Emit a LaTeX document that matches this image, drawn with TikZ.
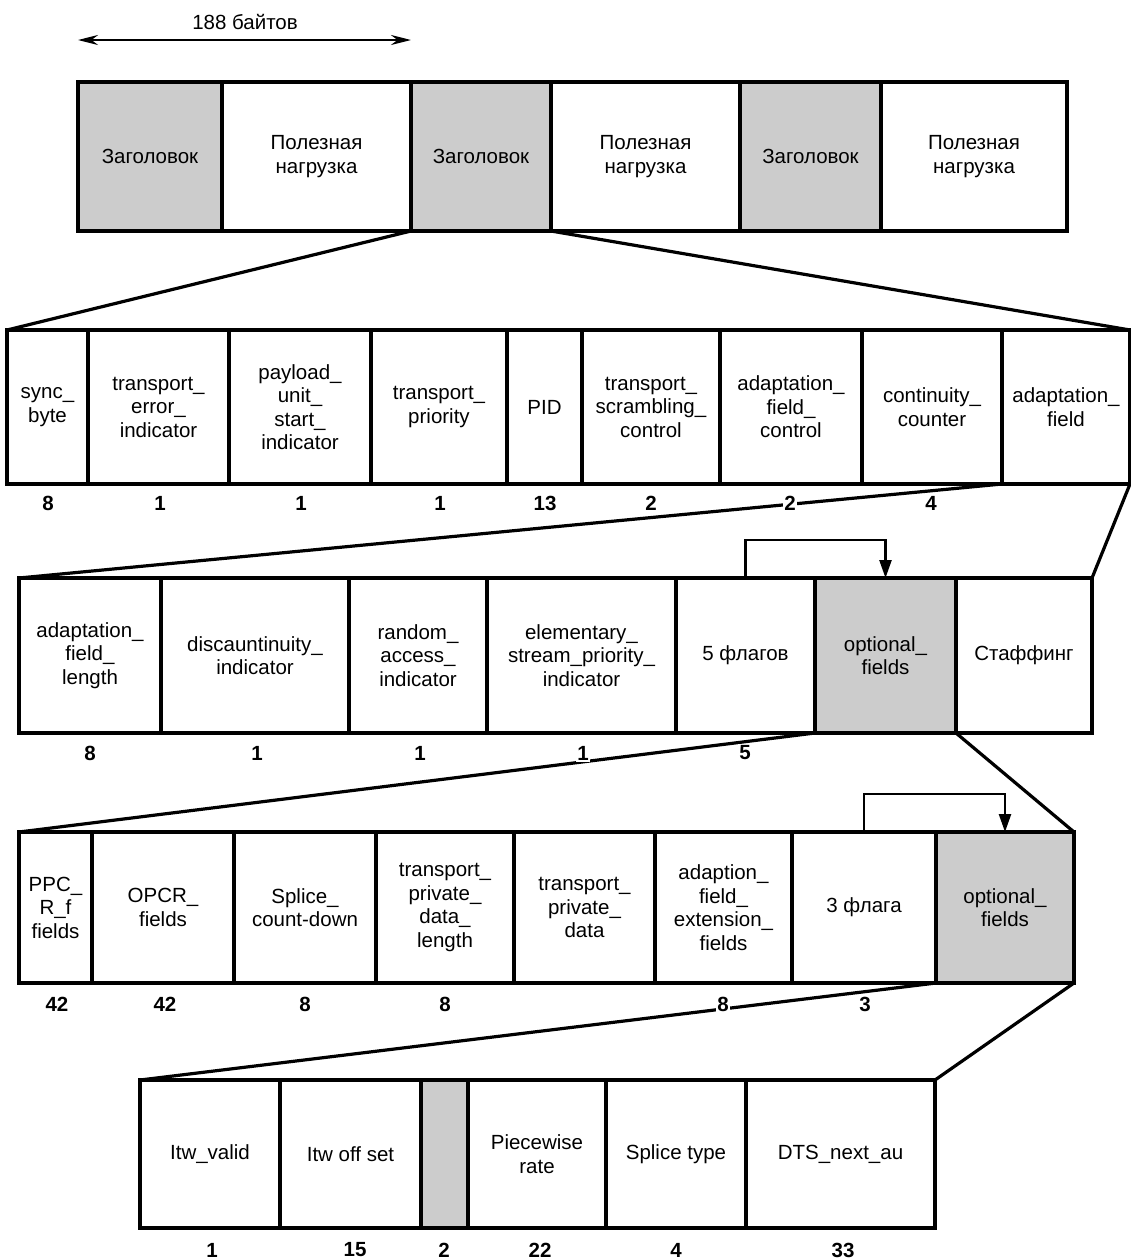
\documentclass[tikz,border=0pt]{standalone}
\usepackage{fontspec}
\setmainfont{Liberation Sans}
\usetikzlibrary{arrows.meta}
\definecolor{cellgray}{RGB}{204,204,204}
\newcommand{\cellfont}{\fontsize{20.5}{23.5}\selectfont}
\tikzset{
  cell/.style={draw, line width=3.2pt, anchor=north west, inner sep=0pt, outer sep=0pt, align=center, font=\cellfont, fill=white},
  shaded/.style={cell, fill=cellgray},
  num/.style={fill=white, inner sep=1.5pt, font=\cellfont\bfseries},
  link/.style={line width=3.2pt, line cap=round},
  flagarrow/.style={line width=2.4pt, -{Triangle[length=18pt,width=12pt]}},
  sizearrow/.style={line width=2.2pt, {Stealth[length=20pt,width=10pt]}-{Stealth[length=20pt,width=10pt]}}
}
\begin{document}
\begin{tikzpicture}[x=1pt, y=-1pt]
\useasboundingbox (0,0) rectangle (1131,1259);
% size arrow
\coordinate (sa) at (78,40);
\coordinate (sb) at (411,40);
\draw[sizearrow] (sa) -- (sb);
\node[font=\cellfont] (sizelabel) at (245,22) {188 байтов};

% Row 1
\node[shaded, minimum width=144pt, minimum height=149pt] (h1) at (78,82) {Заголовок};
\node[cell, minimum width=189pt, minimum height=149pt] (p1) at (222,82) {Полезная\\нагрузка};
\node[shaded, minimum width=140pt, minimum height=149pt] (h2) at (411,82) {Заголовок};
\node[cell, minimum width=189pt, minimum height=149pt] (p2) at (551,82) {Полезная\\нагрузка};
\node[shaded, minimum width=141pt, minimum height=149pt] (h3) at (740,82) {Заголовок};
\node[cell, minimum width=186pt, minimum height=149pt] (p3) at (881,82) {Полезная\\нагрузка};

% Row 2
\node[cell, minimum width=81pt, minimum height=154pt] (sync) at (7,330) {sync\_\\byte};
\node[cell, minimum width=141pt, minimum height=154pt] (tei) at (88,330) {transport\_\\error\_\\indicator};
\node[cell, minimum width=142pt, minimum height=154pt] (pusi) at (229,330) {payload\_\\unit\_\\start\_\\indicator};
\node[cell, minimum width=136pt, minimum height=154pt] (tp) at (371,330) {transport\_\\priority};
\node[cell, minimum width=75pt, minimum height=154pt] (pid) at (507,330) {PID};
\node[cell, minimum width=138pt, minimum height=154pt] (tsc) at (582,330) {transport\_\\scrambling\_\\control};
\node[cell, minimum width=142pt, minimum height=154pt] (afc) at (720,330) {adaptation\_\\field\_\\control};
\node[cell, minimum width=140pt, minimum height=154pt] (cc) at (862,330) {continuity\_\\counter};
\node[cell, minimum width=128pt, minimum height=154pt] (af) at (1002,330) {adaptation\_\\field};

% Row 3
\node[cell, minimum width=142pt, minimum height=155pt] (afl) at (19,578) {adaptation\_\\field\_\\length};
\node[cell, minimum width=188pt, minimum height=155pt] (di) at (161,578) {discauntinuity\_\\indicator};
\node[cell, minimum width=138pt, minimum height=155pt] (rai) at (349,578) {random\_\\access\_\\indicator};
\node[cell, minimum width=189pt, minimum height=155pt] (espi) at (487,578) {elementary\_\\stream\_priority\_\\indicator};
\node[cell, minimum width=139pt, minimum height=155pt] (f5) at (676,578) {5 флагов};
\node[shaded, minimum width=141pt, minimum height=155pt] (opt1) at (815,578) {optional\_\\fields};
\node[cell, minimum width=136pt, minimum height=155pt] (stuff) at (956,578) {Стаффинг};

% Row 4
\node[cell, minimum width=73pt, minimum height=151pt] (ppc) at (19,832) {PPC\_\\R\_f\\fields};
\node[cell, minimum width=142pt, minimum height=151pt] (opcr) at (92,832) {OPCR\_\\fields};
\node[cell, minimum width=142pt, minimum height=151pt] (splice) at (234,832) {Splice\_\\count-down};
\node[cell, minimum width=138pt, minimum height=151pt] (tpdl) at (376,832) {transport\_\\private\_\\data\_\\length};
\node[cell, minimum width=141pt, minimum height=151pt] (tpd) at (514,832) {transport\_\\private\_\\data};
\node[cell, minimum width=137pt, minimum height=151pt] (afe) at (655,832) {adaption\_\\field\_\\extension\_\\fields};
\node[cell, minimum width=144pt, minimum height=151pt] (f3) at (792,832) {3 флага};
\node[shaded, minimum width=138pt, minimum height=151pt] (opt2) at (936,832) {optional\_\\fields};

% Row 5
\node[cell, minimum width=140pt, minimum height=148pt] (itwv) at (140,1080) {Itw\_valid};
\node[cell, minimum width=141pt, minimum height=148pt] (itwo) at (280,1080) {Itw off set};
\node[shaded, minimum width=47pt, minimum height=148pt] (gap) at (421,1080) {};
\node[cell, minimum width=138pt, minimum height=148pt] (pw) at (468,1080) {Piecewise\\rate};
\node[cell, minimum width=140pt, minimum height=148pt] (st) at (606,1080) {Splice type};
\node[cell, minimum width=189pt, minimum height=148pt] (dts) at (746,1080) {DTS\_next\_au};

% expansion lines
\draw[link] (h2.south west) -- (sync.north west);
\draw[link] (h2.south east) -- (af.north east);
\draw[link] (af.south west) -- (afl.north west);
\draw[link] (af.south east) -- (stuff.north east);
\draw[link] (opt1.south west) -- (ppc.north west);
\draw[link] (opt1.south east) -- (opt2.north east);
\draw[link] (opt2.south west) -- (itwv.north west);
\draw[link] (opt2.south east) -- (dts.north east);

% flag arrows
\draw[flagarrow] (f5.north) -- ++(0,-38) -| (opt1.north);
\draw[flagarrow] (f3.north) -- ++(0,-38) -| (opt2.north);

% numbers row 2
\node[num] (n2a) at (48,503) {8};
\node[num] (n2b) at (160,503) {1};
\node[num] (n2c) at (301,503) {1};
\node[num] (n2d) at (440,503) {1};
\node[num] (n2e) at (545,503) {13};
\node[num] (n2f) at (651,503) {2};
\node[num] (n2g) at (790,503) {2};
\node[num] (n2h) at (931,503) {4};
% numbers row 3
\node[num] (n3a) at (90,753) {8};
\node[num] (n3b) at (257,753) {1};
\node[num] (n3c) at (420,753) {1};
\node[num] (n3d) at (583,753) {1};
\node[num] (n3e) at (745,753) {5};
% numbers row 4
\node[num] (n4a) at (57,1004) {42};
\node[num] (n4b) at (165,1004) {42};
\node[num] (n4c) at (305,1004) {8};
\node[num] (n4d) at (445,1004) {8};
\node[num] (n4e) at (723,1004) {8};
\node[num] (n4f) at (865,1004) {3};
% numbers row 5
\node[num] (n5a) at (212,1250) {1};
\node[num] (n5b) at (355,1250) {15};
\node[num] (n5c) at (444,1250) {2};
\node[num] (n5d) at (540,1250) {22};
\node[num] (n5e) at (676,1250) {4};
\node[num] (n5f) at (843,1250) {33};
\end{tikzpicture}
\end{document}
